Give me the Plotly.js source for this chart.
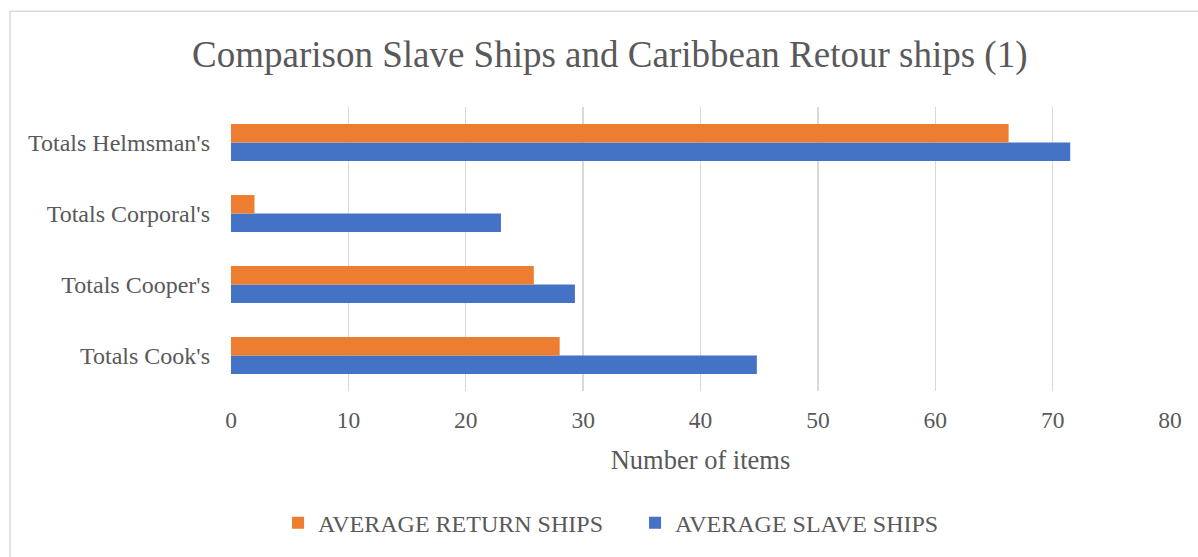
<!DOCTYPE html>
<html>
<head>
<meta charset="utf-8">
<script src="https://cdn.plot.ly/plotly-3.0.1.min.js"></script>
<style>html,body{margin:0;padding:0;background:#fff;}#chart{width:1198px;height:557px;}</style>
</head>
<body>
<div id="chart"></div>
<script>
const categories = ["Totals Cook's", "Totals Cooper's", "Totals Corporal's", "Totals Helmsman's"];
const slaveShips = [44.8, 29.3, 23.0, 71.5];
const returnShips = [28.0, 25.8, 2.0, 66.25];
const xTicks = [0, 10, 20, 30, 40, 50, 60, 70, 80];

const font = "Liberation Serif, Times New Roman, serif";
const grey = "#595959";

const traces = [
  {type: "bar", orientation: "h", name: "AVERAGE SLAVE SHIPS", y: categories, x: slaveShips,
   marker: {color: "#4472C4"}, hoverinfo: "x+name"},
  {type: "bar", orientation: "h", name: "AVERAGE RETURN SHIPS", y: categories, x: returnShips,
   marker: {color: "#ED7D31"}, hoverinfo: "x+name"}
];

const layout = {
  width: 1198, height: 557,
  margin: {l: 231, r: 28, t: 107, b: 164},
  paper_bgcolor: "#fff", plot_bgcolor: "#fff",
  font: {family: font, color: grey, size: 24},
  barmode: "group", bargap: 0.48, bargroupgap: 0,
  title: {text: "Comparison Slave Ships and Caribbean Retour ships (1)",
          font: {family: font, size: 37, color: grey},
          xref: "container", x: 0.509, xanchor: "center",
          yref: "container", y: 0.903, yanchor: "middle"},
  xaxis: {range: [0, 80], tickvals: xTicks, ticktext: xTicks.map(String),
          showgrid: true, gridcolor: "#d9d9d9", gridwidth: 1.3,
          zeroline: false, showline: false, ticks: "", ticklabelstandoff: 12,
          tickfont: {family: font, size: 23.5, color: grey},
          title: {text: "Number of items", font: {family: font, size: 26.5, color: grey}, standoff: 18},
          fixedrange: true},
  yaxis: {type: "category", categoryorder: "array", categoryarray: categories,
          showgrid: false, zeroline: false, showline: false, ticks: "",
          ticklabelstandoff: 20,
          tickfont: {family: font, size: 24, color: grey}, fixedrange: true},
  legend: {orientation: "h", traceorder: "reversed", x: 0.4303, xanchor: "center",
           entrywidth: 312, entrywidthmode: "pixels",
           y: -0.465, yanchor: "middle", font: {family: font, size: 24, color: grey}},
  shapes: [{type: "rect", xref: "paper", yref: "paper",
            x0: (10 - 231) / 939, x1: 1.2, y0: -1, y1: 1 + (107 - 10.5) / 286,
            line: {color: "#d9d9d9", width: 1.5}, fillcolor: "rgba(0,0,0,0)", layer: "below"}],
  showlegend: true
};

Plotly.newPlot("chart", traces, layout, {displayModeBar: false, staticPlot: true});
</script>
</body>
</html>
